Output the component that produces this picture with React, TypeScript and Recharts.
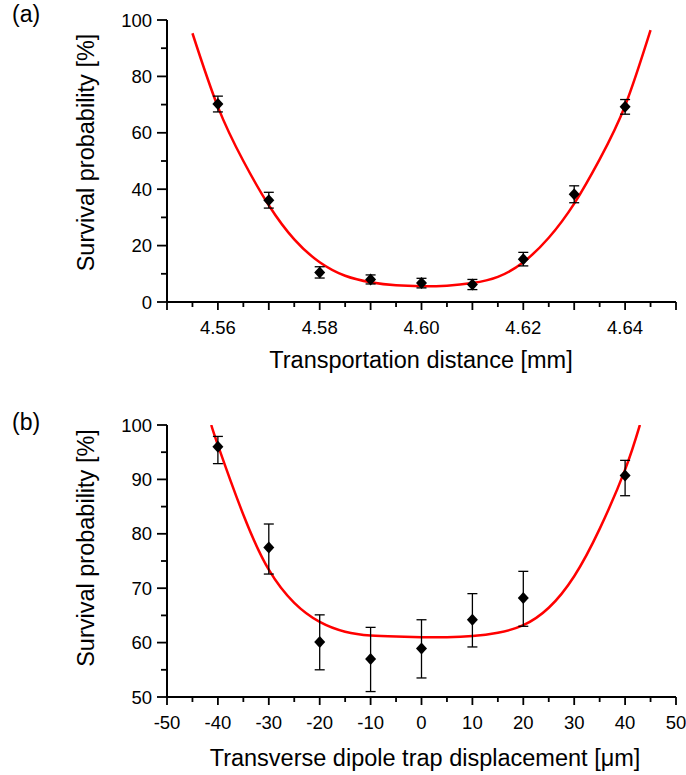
import React from 'react';
import { ComposedChart, XAxis, YAxis, Line, Scatter, ErrorBar } from 'recharts';

const FONT = '"Liberation Sans", Arial, Helvetica, sans-serif';

// ---------- Panel (a) ----------
const topX = [4.56, 4.57, 4.58, 4.59, 4.6, 4.61, 4.62, 4.63, 4.64];
const topY = [70.2, 36.1, 10.5, 8.0, 6.7, 6.2, 15.2, 38.2, 69.2];
const topErr = [2.8, 2.8, 2.0, 1.6, 1.7, 1.8, 2.4, 3.0, 2.6];
const topFitX = [4.555, 4.56, 4.565, 4.57, 4.575, 4.58, 4.585, 4.59, 4.595, 4.6, 4.605, 4.61, 4.615, 4.62, 4.625, 4.63, 4.635, 4.64, 4.645];
const topFitY = [95.3, 69.2, 50.0, 34.3, 22.2, 14.1, 9.3, 7.0, 5.9, 5.6, 5.8, 6.7, 8.9, 14.1, 22.8, 34.9, 50.6, 69.6, 96.4];
const topXTicks = [4.55, 4.555, 4.56, 4.565, 4.57, 4.575, 4.58, 4.585, 4.59, 4.595, 4.6, 4.605, 4.61, 4.615, 4.62, 4.625, 4.63, 4.635, 4.64, 4.645, 4.65];
const topXMajor = [4.55, 4.56, 4.57, 4.58, 4.59, 4.6, 4.61, 4.62, 4.63, 4.64, 4.65];
const topXLabels = [4.56, 4.58, 4.6, 4.62, 4.64];
const topYTicks = [0, 10, 20, 30, 40, 50, 60, 70, 80, 90, 100];
const topYLabels = [0, 20, 40, 60, 80, 100];

// ---------- Panel (b) ----------
const botX = [-40, -30, -20, -10, 0, 10, 20, 40];
const botY = [96.0, 77.5, 60.1, 57.0, 58.9, 64.2, 68.2, 90.7];
const botErrLow = [3.1, 4.9, 5.1, 6.0, 5.4, 5.0, 5.2, 3.7];
const botErrHigh = [1.9, 4.3, 5.0, 5.8, 5.3, 4.8, 4.9, 2.8];
const botFitX = [-41.3, -40, -35, -30, -25, -20, -15, -10, -5, 0, 5, 10, 15, 20, 25, 30, 35, 40, 42.9];
const botFitY = [100, 96.3, 83.5, 73.4, 67.3, 63.8, 62.0, 61.3, 61.1, 61.0, 61.0, 61.2, 61.8, 63.2, 66.4, 72.2, 80.9, 91.8, 100];
const botXTicks = [-50, -45, -40, -35, -30, -25, -20, -15, -10, -5, 0, 5, 10, 15, 20, 25, 30, 35, 40, 45, 50];
const botXMajor = [-50, -40, -30, -20, -10, 0, 10, 20, 30, 40, 50];
const botXLabels = [-50, -40, -30, -20, -10, 0, 10, 20, 30, 40, 50];
const botYTicks = [50, 55, 60, 65, 70, 75, 80, 85, 90, 95, 100];
const botYLabels = [50, 60, 70, 80, 90, 100];

const topPoints = topX.map((x, i) => ({ x, y: topY[i], err: topErr[i] }));
const topFit = topFitX.map((x, i) => ({ x, y: topFitY[i] }));
const botPoints = botX.map((x, i) => ({ x, y: botY[i], err: [botErrLow[i], botErrHigh[i]] }));
const botFit = botFitX.map((x, i) => ({ x, y: botFitY[i] }));

const has = (arr: number[], v: number) => arr.some((a) => Math.abs(a - v) < 1e-9);

const XTick = (props: any) => {
  const { x, y, payload, major, labels, fmt } = props;
  const v = payload.value;
  const isMajor = has(major, v);
  const isLab = has(labels, v);
  return (
    <g>
      <line x1={x} x2={x} y1={y} y2={y + (isMajor ? 8 : 5)} stroke="#000" strokeWidth={1.8} />
      {isLab && (
        <text x={x} y={y + 31.5} textAnchor="middle" fontSize={18.5} fontFamily={FONT} fill="#000">
          {fmt(v)}
        </text>
      )}
    </g>
  );
};

const YTick = (props: any) => {
  const { x, y, payload, labels } = props;
  const v = payload.value;
  const isLab = has(labels, v);
  return (
    <g>
      <line x1={x} x2={x - (isLab ? 10 : 6)} y1={y} y2={y} stroke="#000" strokeWidth={1.8} />
      {isLab && (
        <text x={x - 15} y={y + 6.5} textAnchor="end" fontSize={18.5} fontFamily={FONT} fill="#000">
          {String(v)}
        </text>
      )}
    </g>
  );
};

const Diamond = (props: any) => {
  const { cx, cy } = props;
  if (cx == null || cy == null) return null;
  return <polygon points={`${cx},${cy - 6} ${cx + 5.5},${cy} ${cx},${cy + 6} ${cx - 5.5},${cy}`} fill="#000" />;
};

const axisLineStyle = { stroke: '#000', strokeWidth: 2 };

export default function App() {
  return (
    <div style={{ position: 'absolute', left: 0, top: 0, width: 686, height: 775, background: '#fff' }}>
      <div style={{ position: 'absolute', left: 0, top: 0 }}>
        <ComposedChart width={686} height={390} margin={{ top: 20, right: 10, left: 107, bottom: 58 }}>
          <XAxis
            type="number"
            dataKey="x"
            domain={[4.55, 4.65]}
            ticks={topXTicks}
            interval={0}
            tickSize={0}
            tickMargin={0}
            tickLine={false}
            axisLine={axisLineStyle}
            height={30}
            allowDataOverflow
            tick={(p: any) => <XTick {...p} major={topXMajor} labels={topXLabels} fmt={(v: number) => v.toFixed(2)} />}
          />
          <YAxis
            type="number"
            domain={[0, 100]}
            ticks={topYTicks}
            interval={0}
            tickSize={0}
            tickMargin={0}
            tickLine={false}
            axisLine={axisLineStyle}
            width={60}
            allowDataOverflow
            tick={(p: any) => <YTick {...p} labels={topYLabels} />}
          />
          <Line data={topFit} dataKey="y" type="natural" dot={false} stroke="#ff0000" strokeWidth={2.5} isAnimationActive={false} />
          <Scatter data={topPoints} dataKey="y" shape={Diamond} isAnimationActive={false}>
            <ErrorBar dataKey="err" direction="y" width={5} stroke="#000" strokeWidth={1.3} />
          </Scatter>
        </ComposedChart>
      </div>
      <div style={{ position: 'absolute', left: 0, top: 390 }}>
        <ComposedChart width={686} height={385} margin={{ top: 35, right: 10, left: 107, bottom: 48 }}>
          <XAxis
            type="number"
            dataKey="x"
            domain={[-50, 50]}
            ticks={botXTicks}
            interval={0}
            tickSize={0}
            tickMargin={0}
            tickLine={false}
            axisLine={axisLineStyle}
            height={30}
            allowDataOverflow
            tick={(p: any) => <XTick {...p} major={botXMajor} labels={botXLabels} fmt={(v: number) => String(v)} />}
          />
          <YAxis
            type="number"
            domain={[50, 100]}
            ticks={botYTicks}
            interval={0}
            tickSize={0}
            tickMargin={0}
            tickLine={false}
            axisLine={axisLineStyle}
            width={60}
            allowDataOverflow
            tick={(p: any) => <YTick {...p} labels={botYLabels} />}
          />
          <Line data={botFit} dataKey="y" type="natural" dot={false} stroke="#ff0000" strokeWidth={2.5} isAnimationActive={false} />
          <Scatter data={botPoints} dataKey="y" shape={Diamond} isAnimationActive={false}>
            <ErrorBar dataKey="err" direction="y" width={5} stroke="#000" strokeWidth={1.3} />
          </Scatter>
        </ComposedChart>
      </div>
      <svg width={686} height={775} style={{ position: 'absolute', left: 0, top: 0, pointerEvents: 'none' }}>
        <g fontFamily={FONT} fill="#000">
          <text x={12} y={22} fontSize={23}>(a)</text>
          <text x={12} y={430} fontSize={23}>(b)</text>
          <text x={421} y={368} fontSize={23.5} textAnchor="middle">Transportation distance [mm]</text>
          <text x={425} y={766} fontSize={23.5} textAnchor="middle">Transverse dipole trap displacement [μm]</text>
          <text x={93.5} y={152.5} fontSize={23.5} textAnchor="middle" transform="rotate(-90 93.5 152.5)">Survival probability [%]</text>
          <text x={93.5} y={548} fontSize={23.5} textAnchor="middle" transform="rotate(-90 93.5 548)">Survival probability [%]</text>
        </g>
      </svg>
    </div>
  );
}
